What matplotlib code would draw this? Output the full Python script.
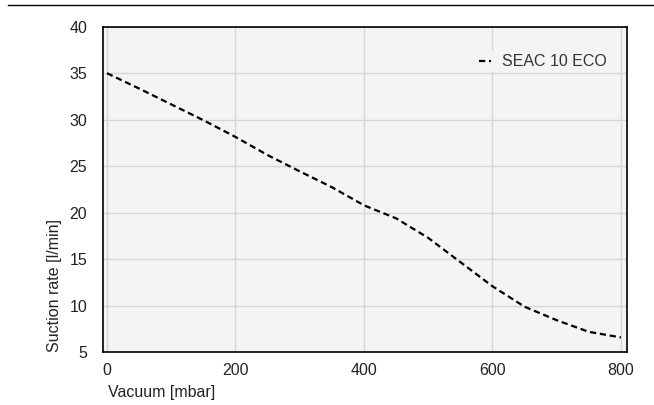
import matplotlib
matplotlib.use("Agg")
import matplotlib.pyplot as plt
from matplotlib.lines import Line2D

# Data
vacuum_mbar = [0, 50, 100, 150, 200, 250, 300, 350, 400, 450, 500, 550, 600, 650, 700, 750, 800]
suction_rate = [35.0, 33.35, 31.65, 29.95, 28.15, 26.2, 24.45, 22.75, 20.8, 19.4, 17.3, 14.7, 12.1, 9.9, 8.45, 7.2, 6.6]
series_name = "SEAC 10 ECO"
x_ticks = [0, 200, 400, 600, 800]
y_ticks = [5, 10, 15, 20, 25, 30, 35, 40]
x_label = "Vacuum [mbar]"
y_label = "Suction rate [l/min]"

plt.rcParams['font.family'] = ['Liberation Sans', 'DejaVu Sans']
FS = 11.5
W, H = 654, 405

fig = plt.figure(figsize=(W / 100, H / 100), dpi=100)
ax = fig.add_axes([102.7 / W, (H - 352.3) / H, (626.7 - 102.7) / W, (352.3 - 26.7) / H])
ax.set_facecolor('#f3f4f6')

ax.plot(vacuum_mbar, suction_rate, color='black', lw=1.6, dashes=(2.8, 1.7),
        label=series_name, zorder=3)

ax.set_xlim(-6.7, 809)
ax.set_ylim(5, 40)
ax.set_xticks(x_ticks)
ax.set_yticks(y_ticks)
ax.grid(True, color='#d6d6d6', lw=1.0, zorder=0)
ax.set_axisbelow(True)
ax.tick_params(axis='both', length=0, labelsize=FS, colors='#222222')
ax.tick_params(axis='x', pad=8)
ax.tick_params(axis='y', pad=11.3)
for sp in ax.spines.values():
    sp.set_color('black')
    sp.set_linewidth(1.2)

# axis titles
fig.text(108 / W, 1 - 392 / H, x_label, ha='left', va='center', fontsize=FS, color='#222222')
fig.text(55 / W, 1 - 352.3 / H, y_label, ha='center', va='bottom', rotation=90,
         fontsize=FS, color='#222222')

leg = ax.legend(loc='center left', bbox_to_anchor=(476 / W, 1 - 61.7 / H),
                bbox_transform=fig.transFigure, frameon=True, fontsize=FS,
                handlelength=0.75, handletextpad=0.7, borderpad=0.2, borderaxespad=0)
leg.get_frame().set_facecolor('#f3f4f6')
leg.get_frame().set_edgecolor('none')
leg.get_frame().set_alpha(1)
for t in leg.get_texts():
    t.set_color('#333333')

# top separator line
fig.add_artist(Line2D([8 / W, 1.0], [1 - 4.5 / H, 1 - 4.5 / H], color='black', lw=1.0,
                      transform=fig.transFigure))

fig.savefig('out.png', dpi=100)
